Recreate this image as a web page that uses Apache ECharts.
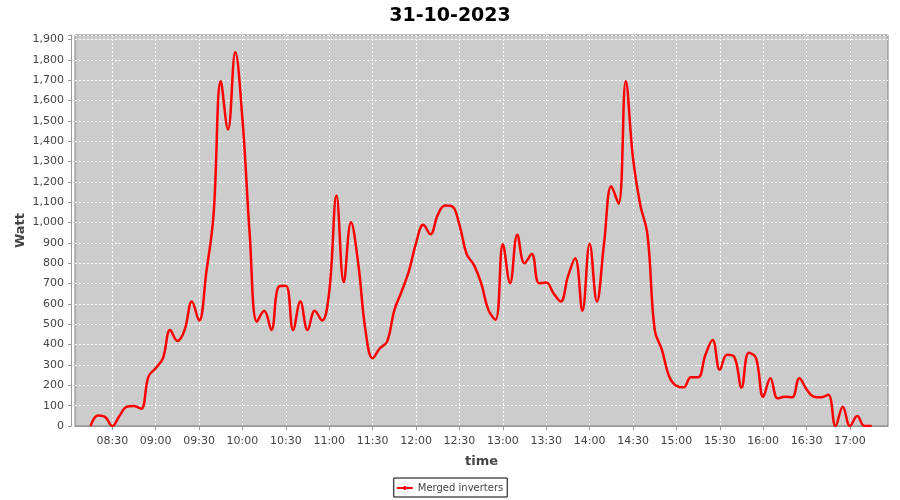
<!DOCTYPE html>
<html>
<head>
<meta charset="utf-8">
<script src="https://cdn.jsdelivr.net/npm/echarts@6/dist/echarts.min.js"></script>
<style>html,body{margin:0;padding:0;background:#fff;}#c{width:900px;height:500px;}</style>
</head>
<body>
<div id="c"></div>
<script>
var chartTitle = '31-10-2023';
var seriesName = 'Merged inverters';
var yTicks = [0,100,200,300,400,500,600,700,800,900,1000,1100,1200,1300,1400,1500,1600,1700,1800,1900];
var xTicks = ['08:30','09:00','09:30','10:00','10:30','11:00','11:30','12:00','12:30','13:00','13:30','14:00','14:30','15:00','15:30','16:00','16:30','17:00'];
var times = [
 '08:15','08:20','08:25','08:30','08:35','08:40','08:45','08:50','08:55',
 '09:00','09:05','09:10','09:15','09:20','09:25','09:30','09:35','09:40','09:45','09:50','09:55',
 '10:00','10:05','10:10','10:15','10:20','10:25','10:30','10:35','10:40','10:45','10:50','10:55',
 '11:00','11:05','11:10','11:15','11:20','11:25','11:30','11:35','11:40','11:45','11:50','11:55',
 '12:00','12:05','12:10','12:15','12:20','12:25','12:30','12:35','12:40','12:45','12:50','12:55',
 '13:00','13:05','13:10','13:15','13:20','13:25','13:30','13:35','13:40','13:45','13:50','13:55',
 '14:00','14:05','14:10','14:15','14:20','14:25','14:30','14:35','14:40','14:45','14:50','14:55',
 '15:00','15:05','15:10','15:15','15:20','15:25','15:30','15:35','15:40','15:45','15:50','15:55',
 '16:00','16:05','16:10','16:15','16:20','16:25','16:30','16:35','16:40','16:45','16:50','16:55',
 '17:00','17:05','17:10','17:15'
];
var watts = [
 0,52,45,0,50,95,98,85,243,
 284,333,472,418,472,612,518,755,1038,1695,1457,1837,
 1506,943,513,566,472,685,690,472,612,472,566,518,
 661,1133,707,1001,800,472,333,382,415,570,661,760,
 899,989,943,1038,1084,1080,989,845,792,702,571,522,
 894,702,940,800,846,702,705,653,612,735,825,566,
 896,612,899,1178,1093,1695,1317,1088,940,472,374,243,
 197,190,240,240,349,423,276,350,340,189,360,335,
 144,235,136,144,141,235,180,144,141,153,0,95,
 0,49,0,0
];

function toMin(s){var p=s.split(':');return (+p[0])*60+(+p[1]);}
var data = times.map(function(t,i){return [toMin(t), watts[i]];});
var xTickValues = xTicks.map(toMin);
var xMin = 8*60+4.22;
var xMax = 17*60+26.27;
function pad(n){return (n<10?'0':'')+n;}
function fmtMin(v){var m=Math.round(v);return pad(Math.floor(m/60))+':'+pad(m%60);}

var chart = echarts.init(document.getElementById('c'), null, {renderer:'canvas'});
var font = 'DejaVu Sans';
chart.setOption({
  animation:false,
  backgroundColor:'#ffffff',
  title:{text:chartTitle,left:'center',top:2,textStyle:{fontFamily:font,fontWeight:'bold',fontSize:19,color:'#000'}},
  grid:{left:75,right:12,top:35,bottom:74,show:true,backgroundColor:'#cccccc',borderColor:'#808080',borderWidth:1},
  legend:{bottom:3,left:'center',data:[{name:seriesName,icon:'path://M0,4L16,4L16,6L0,6ZM7,3L9,3L9,7L7,7Z'}],
    itemWidth:16,itemHeight:5,itemGap:4,padding:[5,4,4,3],borderColor:'#000',borderWidth:1,
    textStyle:{fontFamily:font,fontSize:10,color:'#444'}},
  xAxis:{type:'value',min:xMin,max:xMax,minInterval:30,maxInterval:30,offset:4,
    name:'time',nameLocation:'middle',nameGap:25,nameTextStyle:{fontFamily:font,fontWeight:'bold',fontSize:13,color:'#444'},
    axisLine:{show:true,lineStyle:{color:'#999'}},
    axisTick:{show:true,length:4,lineStyle:{color:'#999'},customValues:xTickValues},
    axisLabel:{fontFamily:font,fontSize:11,color:'#444',margin:6,hideOverlap:false,customValues:xTickValues,
      formatter:function(v){return fmtMin(v);}},
    splitLine:{show:true,lineStyle:{color:'#ffffff',type:[2,2],width:1}}
  },
  yAxis:{type:'value',min:0,max:1922,interval:100,offset:4,
    name:'Watt',nameLocation:'middle',nameGap:44,nameMoveOverlap:false,nameTextStyle:{fontFamily:font,fontWeight:'bold',fontSize:13,color:'#444'},
    axisLine:{show:true,lineStyle:{color:'#999'}},
    axisTick:{show:true,length:3,lineStyle:{color:'#999'}},
    axisLabel:{fontFamily:font,fontSize:11,color:'#444',margin:7,
      formatter:function(v){if(yTicks.indexOf(v)<0)return '';return v.toLocaleString('en-US');}},
    splitLine:{show:true,lineStyle:{color:'#ffffff',type:[2,2],width:1}}
  },
  series:[
    {name:seriesName,type:'line',data:data,smooth:0.4,showSymbol:false,symbol:'none',
    lineStyle:{color:'#ff0000',width:2.5},itemStyle:{color:'#ff0000'},clip:true}
  ]
});
</script>
</body>
</html>
